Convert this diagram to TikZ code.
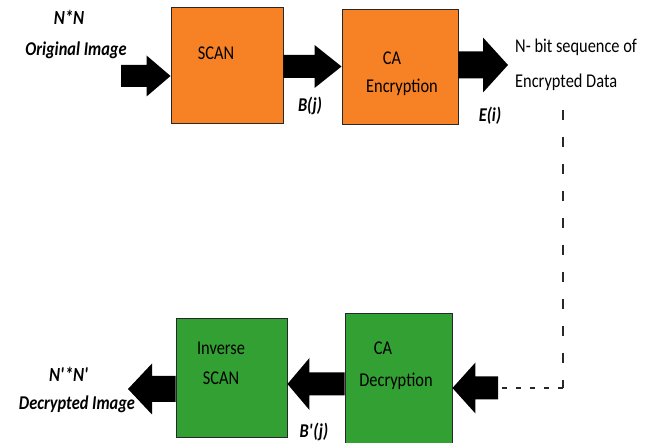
\documentclass[tikz,border=0pt]{standalone}
\usepackage{fontspec}
\setmainfont{Carlito}[FakeStretch=0.84]
\usetikzlibrary{calc}

\definecolor{scanorange}{RGB}{247,130,38}
\definecolor{decgreen}{RGB}{50,160,50}
\definecolor{edgegray}{RGB}{40,40,40}

% block arrow: tail, tip, shaft half-width, head half-width, head length
\newcommand\blockarrow[5]{%
  \path ($#2!#5pt!#1$) coordinate (hb);
  \fill[black] ($#1+(0,#3)$) -- ($(hb)+(0,#3)$) -- ($(hb)+(0,#4)$) -- #2
    -- ($(hb)-(0,#4)$) -- ($(hb)-(0,#3)$) -- ($#1-(0,#3)$) -- cycle;}

\begin{document}
\begin{tikzpicture}[x=1pt,y=-1pt,
  blk/.style={draw=edgegray,line width=0.9pt,inner sep=0pt,minimum width=#1},
  boxtext/.style={anchor=base,font=\fontsize{19.5}{22}\selectfont,text=black,inner sep=0pt},
  lbl/.style={anchor=base,font=\fontsize{19.5}{22}\selectfont\bfseries\itshape,text=black,inner sep=0pt},
  lblb/.style={anchor=base,font=\fontsize{20}{22}\selectfont\bfseries\itshape,text=black,inner sep=0pt},
  dashv/.style={draw=edgegray,line width=1.2pt,dash pattern=on 10pt off 17pt},
  dashh/.style={draw=edgegray,line width=1.2pt,dash pattern=on 5pt off 9pt}]
\useasboundingbox (0,0) rectangle (659,443);

% processing blocks
\node[blk=112pt,fill=scanorange,minimum height=116pt] (scan) at (227,65) {};
\node[blk=116pt,fill=scanorange,minimum height=115pt] (enc) at (400,66.5) {};
\node[blk=107pt,fill=decgreen,minimum height=133pt] (dec) at (398.5,379.5) {};
\node[blk=111pt,fill=decgreen,minimum height=119pt] (inv) at (231.5,377.5) {};

% block captions
\node[boxtext] (scanT) at (216,60) {SCAN};
\node[boxtext] (encA) at (392,65) {CA};
\node[boxtext] (encB) at (402,93) {Encryption};
\node[boxtext] (decA) at (383,355) {CA};
\node[boxtext] (decB) at (396,387) {Decryption};
\node[boxtext] (invA) at (221,355) {Inverse};
\node[boxtext] (invB) at (221,385) {SCAN};

% free ends of the arrows
\coordinate (inA) at (121,76);
\coordinate (outE) at (508,65);
\coordinate (inD) at (498,388);
\coordinate (midB) at (316,384);
\coordinate (outD) at (128,389);
\coordinate (dtop) at (563,110);
\coordinate (dcorner) at (563,388);

% data-flow arrows
\blockarrow{(inA)}{(scan.west |- inA)}{11}{20.5}{24}
\blockarrow{(scan.east |- enc.west)}{(enc.west)}{11.5}{21.5}{27}
\blockarrow{(enc.east |- outE)}{(outE)}{13.5}{27.5}{25}
\blockarrow{(inD)}{(dec.east |- inD)}{11.5}{25.5}{23}
\blockarrow{(dec.west |- midB)}{(inv.east |- midB)}{11.5}{26}{22}
\blockarrow{(inv.west |- outD)}{(outD)}{13}{25.5}{24}

% channel carrying the encrypted bits
\draw[dashv] (dtop) -- (dcorner);
\draw[dashh] (dcorner) -- (inD);

% labels
\node[lblb] (nn) at (69,25) {N*N};
\node[lbl] (orig) at (76,56) {Original Image};
\node[lbl] (bj) at (310,112) {B(j)};
\node[lbl] (ei) at (490,122) {E(i)};
\node[boxtext,anchor=base west] (seq) at (515,53) {N- bit sequence of};
\node[boxtext,anchor=base west] (data) at (515,88) {Encrypted Data};
\node[lblb] (nn2) at (69,382) {N\textquotesingle*N\textquotesingle};
\node[lbl] (decim) at (77,410) {Decrypted Image};
\node[lbl] (bj2) at (314,438) {B\textquotesingle(j)};
\end{tikzpicture}
\end{document}
